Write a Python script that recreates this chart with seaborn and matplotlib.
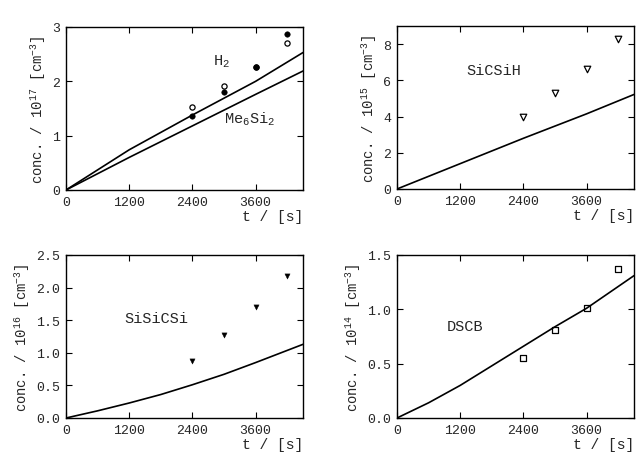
import matplotlib
matplotlib.use("Agg")
import matplotlib.pyplot as plt
import seaborn as sns

# ---- data ----
t_exp = [2400, 3000, 3600, 4200]

# panel 1: H2 / Me6Si2  (units 1e17 cm^-3)
h2_exp = [1.36, 1.81, 2.26, 2.88]
me6si2_exp = [1.52, 1.91, 2.27, 2.71]
t_model1 = [0, 600, 1200, 2400, 3600, 4500]
h2_model = [0.0, 0.37, 0.74, 1.38, 2.00, 2.53]
me6si2_model = [0.0, 0.30, 0.60, 1.18, 1.76, 2.19]

# panel 2: SiCSiH (units 1e15)
sicsih_exp = [4.0, 5.3, 6.6, 8.3]
t_model2 = [0, 1200, 2400, 3600, 4500]
sicsih_model = [0.0, 1.40, 2.80, 4.15, 5.22]

# panel 3: SiSiCSi (units 1e16)
sisicsi_exp = [0.87, 1.28, 1.70, 2.18]
t_model3 = [0, 600, 1200, 1800, 2400, 3000, 3600, 4500]
sisicsi_model = [0.0, 0.11, 0.23, 0.36, 0.51, 0.67, 0.85, 1.13]

# panel 4: DSCB (units 1e14)
dscb_exp = [0.55, 0.81, 1.01, 1.37]
t_model4 = [0, 600, 1200, 1800, 2400, 3000, 3600, 4500]
dscb_model = [0.0, 0.14, 0.30, 0.48, 0.66, 0.84, 1.01, 1.31]

x_ticks = [0, 1200, 2400, 3600]

sns.set_style("ticks")
plt.rcParams["font.family"] = ["Liberation Mono", "DejaVu Sans"]
plt.rcParams["mathtext.default"] = "regular"
plt.rcParams["xtick.direction"] = "in"
plt.rcParams["ytick.direction"] = "in"

fig = plt.figure(figsize=(6.42, 4.60), dpi=100)

W = 237 / 642
H = 163 / 460
positions = [
    (66 / 642, 1 - 191 / 460),
    (397 / 642, 1 - 190 / 460),
    (66 / 642, 1 - 419 / 460),
    (397 / 642, 1 - 419 / 460),
]
axes = [fig.add_axes([x, y, W, H]) for x, y in positions]

def style(ax, ylim, yticks, ylabel, yfmt):
    ax.set_xlim(0, 4500)
    ax.set_ylim(*ylim)
    ax.set_xticks(x_ticks)
    ax.set_yticks(yticks)
    ax.set_yticklabels([yfmt.format(v) for v in yticks])
    ax.tick_params(top=True, right=True, length=4, width=0.8, labelsize=9.5,
                   color="black", pad=4)
    for s in ax.spines.values():
        s.set_linewidth(1.0)
        s.set_color("black")
    ax.set_ylabel(ylabel, fontsize=10, labelpad=3)
    ax.set_xlabel("t / [s]", fontsize=10.5, loc="right", labelpad=1)

# panel 1
ax = axes[0]
sns.lineplot(x=t_model1, y=h2_model, ax=ax, color="black", lw=1.2)
sns.lineplot(x=t_model1, y=me6si2_model, ax=ax, color="black", lw=1.2)
sns.scatterplot(x=t_exp, y=me6si2_exp, ax=ax, marker="o", s=14,
                facecolor="white", edgecolor="black", linewidth=0.9, zorder=3)
sns.scatterplot(x=t_exp, y=h2_exp, ax=ax, marker="o", s=16, color="black",
                edgecolor="black", zorder=4)
ax.text(2950, 2.38, "H$_2$", fontsize=11, ha="center", va="center")
ax.text(3480, 1.32, "Me$_6$Si$_2$", fontsize=11, ha="center", va="center")
style(ax, (0, 3), [0, 1, 2, 3], "conc. / 10$^{17}$ [cm$^{-3}$]", "{:g}")

# panel 2
ax = axes[1]
sns.lineplot(x=t_model2, y=sicsih_model, ax=ax, color="black", lw=1.2)
sns.scatterplot(x=t_exp, y=sicsih_exp, ax=ax, marker="v", s=22,
                facecolor="white", edgecolor="black", linewidth=0.9)
ax.text(1830, 6.55, "SiCSiH", fontsize=11, ha="center", va="center")
style(ax, (0, 9), [0, 2, 4, 6, 8], "conc. / 10$^{15}$ [cm$^{-3}$]", "{:g}")

# panel 3
ax = axes[2]
sns.lineplot(x=t_model3, y=sisicsi_model, ax=ax, color="black", lw=1.2)
sns.scatterplot(x=t_exp, y=sisicsi_exp, ax=ax, marker="v", s=14,
                color="black", edgecolor="black")
ax.text(1710, 1.53, "SiSiCSi", fontsize=11, ha="center", va="center")
style(ax, (0, 2.5), [0, 0.5, 1.0, 1.5, 2.0, 2.5],
      "conc. / 10$^{16}$ [cm$^{-3}$]", "{:.1f}")

# panel 4
ax = axes[3]
sns.lineplot(x=t_model4, y=dscb_model, ax=ax, color="black", lw=1.2)
sns.scatterplot(x=t_exp, y=dscb_exp, ax=ax, marker="s", s=14,
                facecolor="white", edgecolor="black", linewidth=0.9)
ax.text(1290, 0.85, "DSCB", fontsize=11, ha="center", va="center")
style(ax, (0, 1.5), [0, 0.5, 1.0, 1.5],
      "conc. / 10$^{14}$ [cm$^{-3}$]", "{:.1f}")

fig.savefig("out.png", dpi=100)
